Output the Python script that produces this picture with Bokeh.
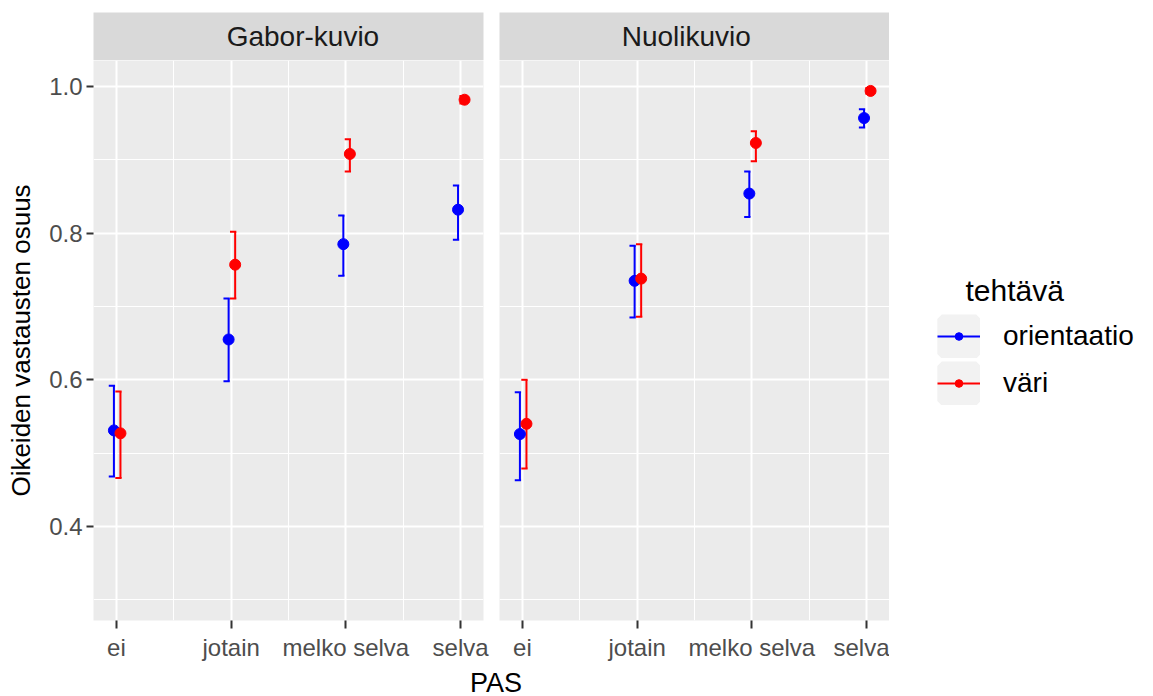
from bokeh.plotting import figure
from bokeh.models import (Range1d, FixedTicker, PrintfTickFormatter, Legend,
                          LegendItem, Label, Div)
from bokeh.layouts import row, column
from bokeh.embed import file_html
from bokeh.resources import INLINE

# ---------------- data ----------------
categories = ["ei", "jotain", "melko selva", "selva"]
facets = ["Gabor-kuvio", "Nuolikuvio"]
tasks = ["orientaatio", "väri"]
task_colors = ["#0000FF", "#FF0000"]
legend_title = "tehtävä"
x_title = "PAS"
y_title = "Oikeiden vastausten osuus"
y_ticks = [0.4, 0.6, 0.8, 1.0]
y_minor = [0.3, 0.5, 0.7, 0.9]

gabor_orient = [0.531, 0.655, 0.785, 0.832]
gabor_orient_lo = [0.468, 0.598, 0.742, 0.791]
gabor_orient_hi = [0.592, 0.711, 0.824, 0.865]
gabor_vari = [0.527, 0.757, 0.908, 0.982]
gabor_vari_lo = [0.466, 0.711, 0.884, 0.977]
gabor_vari_hi = [0.584, 0.802, 0.928, 0.987]

nuoli_orient = [0.526, 0.735, 0.854, 0.957]
nuoli_orient_lo = [0.463, 0.685, 0.822, 0.944]
nuoli_orient_hi = [0.583, 0.783, 0.884, 0.969]
nuoli_vari = [0.540, 0.738, 0.923, 0.994]
nuoli_vari_lo = [0.479, 0.686, 0.898, 0.990]
nuoli_vari_hi = [0.600, 0.785, 0.939, 0.998]

# ---------------- style ----------------
FONT = "Liberation Sans"
NAN = float("nan")
x_pos = [i + 1 for i in range(len(categories))]
x_minor = [i + 1.5 for i in range(len(categories) - 1)]
dodge = [-0.022, 0.035]
X_RANGE = (0.8, 4.2)
Y_RANGE = (0.2717, 1.0355)


def make_strip(text, width, left, right, frac):
    s = figure(width=width, height=60, x_range=Range1d(0, 1), y_range=Range1d(0, 1),
               output_backend="svg", toolbar_location=None,
               x_axis_location=None, y_axis_location=None,
               min_border_left=left, min_border_right=right,
               min_border_top=12, min_border_bottom=0)
    s.background_fill_color = "#D9D9D9"
    s.border_fill_color = "white"
    s.outline_line_color = None
    s.grid.visible = False
    s.add_layout(Label(x=frac, y=0.5, text=text, text_align="center",
                       text_baseline="middle", text_font=FONT,
                       text_font_size="28px", text_color="#1A1A1A"))
    return s


def make_panel(series, left):
    p = figure(width=491 if left else 398, height=608,
               x_range=Range1d(*X_RANGE), y_range=Range1d(*Y_RANGE),
               output_backend="svg", toolbar_location=None,
               y_axis_location="left" if left else None,
               min_border_left=93 if left else 8,
               min_border_right=8 if left else 0,
               min_border_top=0, min_border_bottom=48)
    p.background_fill_color = "#EBEBEB"
    p.border_fill_color = "white"
    p.outline_line_color = None

    p.xgrid.ticker = FixedTicker(ticks=x_pos, minor_ticks=x_minor)
    p.ygrid.ticker = FixedTicker(ticks=y_ticks, minor_ticks=y_minor)
    p.grid.grid_line_color = "white"
    p.grid.grid_line_width = 2
    p.grid.minor_grid_line_color = "white"
    p.grid.minor_grid_line_width = 1.1

    xa = p.xaxis[0]
    xa.ticker = FixedTicker(ticks=x_pos)
    xa.major_label_overrides = {x: c for x, c in zip(x_pos, categories)}
    xa.axis_line_color = None
    xa.major_tick_in = 0
    xa.major_tick_out = 8
    xa.major_tick_line_color = "#333333"
    xa.major_tick_line_width = 2
    xa.minor_tick_line_color = None
    xa.major_label_standoff = 5
    xa.major_label_text_font = FONT
    xa.major_label_text_font_size = "24px"
    xa.major_label_text_color = "#4D4D4D"

    if left:
        ya = p.yaxis[0]
        ya.ticker = FixedTicker(ticks=y_ticks)
        ya.formatter = PrintfTickFormatter(format="%.1f")
        ya.axis_line_color = None
        ya.major_tick_in = 0
        ya.major_tick_out = 7
        ya.major_tick_line_color = "#333333"
        ya.major_tick_line_width = 2
        ya.minor_tick_line_color = None
        ya.major_label_standoff = 4
        ya.major_label_text_font = FONT
        ya.major_label_text_font_size = "24px"
        ya.major_label_text_color = "#4D4D4D"
        ya.axis_label = y_title
        ya.axis_label_text_font = FONT
        ya.axis_label_text_font_size = "26px"
        ya.axis_label_text_font_style = "normal"
        ya.axis_label_text_color = "black"
        ya.axis_label_standoff = 10

    # error bars
    for k, (vals, lo, hi) in enumerate(series):
        xs = [x + dodge[k] for x in x_pos]
        c = task_colors[k]
        cap_l = [x - 0.045 for x in xs]
        cap_r = [x + 0.01 for x in xs]
        p.segment(x0=xs, y0=lo, x1=xs, y1=hi, line_color=c, line_width=2)
        p.segment(x0=cap_l, y0=hi, x1=cap_r, y1=hi, line_color=c, line_width=2)
        p.segment(x0=cap_l, y0=lo, x1=cap_r, y1=lo, line_color=c, line_width=2)
    # points
    for k, (vals, lo, hi) in enumerate(series):
        xs = [x + dodge[k] for x in x_pos]
        c = task_colors[k]
        p.scatter(x=xs, y=vals, size=11, fill_color=c, line_color=c)
    return p


strip_l = make_strip(facets[0], 491, 93, 8, 0.537)
strip_r = make_strip(facets[1], 398, 8, 0, 0.479)
panel_l = make_panel([(gabor_orient, gabor_orient_lo, gabor_orient_hi),
                      (gabor_vari, gabor_vari_lo, gabor_vari_hi)], True)
panel_r = make_panel([(nuoli_orient, nuoli_orient_lo, nuoli_orient_hi),
                      (nuoli_vari, nuoli_vari_lo, nuoli_vari_hi)], False)

# legend figure (key glyphs are legend-only proxies with NaN coordinates)
lg = figure(width=264, height=668, x_range=Range1d(0, 1), y_range=Range1d(0, 1),
            output_backend="svg", toolbar_location=None,
            x_axis_location=None, y_axis_location=None, min_border=0)
lg.grid.visible = False
lg.outline_line_color = None
lg.background_fill_color = "white"
lg.border_fill_color = "white"
items = []
dot_items = []
for t, c in zip(tasks, task_colors):
    bg = lg.rect(x=[NAN], y=[NAN], width=1, height=1, fill_color="#F2F2F2",
                 line_color="#F2F2F2", line_width=9)
    ln = lg.segment(x0=[NAN], y0=[NAN], x1=[NAN], y1=[NAN], line_color=c, line_width=2)
    dt = lg.scatter(x=[NAN], y=[NAN], marker="circle", size=8, line_color=c, fill_color=c)
    items.append(LegendItem(label=t, renderers=[bg, ln]))
    dot_items.append(LegendItem(label=" ", renderers=[dt]))

common = dict(spacing=3, padding=0, margin=0, border_line_color=None,
              background_fill_alpha=0, label_text_font=FONT,
              label_text_font_size="28px", label_text_color="black")
legend = Legend(items=items, location=(48, 263), glyph_width=43, glyph_height=44,
                label_standoff=23, **common)
legend_dots = Legend(items=dot_items, location=(60, 263), glyph_width=19,
                     glyph_height=44, label_standoff=0, **common)
lg.add_layout(legend)
lg.add_layout(legend_dots)
lg.add_layout(Label(x=76, y=378, x_units="screen", y_units="screen",
                    text=legend_title, text_font=FONT, text_font_size="30px",
                    text_baseline="middle", text_color="black"))

pas = Div(text=x_title, width=982, height=28,
          styles={"text-align": "center", "font-family": FONT,
                  "font-size": "27px", "line-height": "20px", "color": "black"})

layout = column(row(column(strip_l, panel_l), column(strip_r, panel_r), lg), pas)

open("out.html", "w").write(file_html(layout, INLINE))
